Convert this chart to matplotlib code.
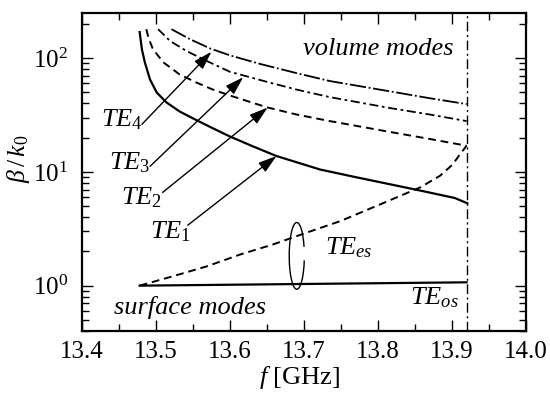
import matplotlib
matplotlib.use("Agg")
import matplotlib.pyplot as plt
from matplotlib.patches import Arc
from matplotlib.ticker import MultipleLocator, LogLocator, NullFormatter

plt.rcParams['font.family'] = 'Liberation Serif'
plt.rcParams['mathtext.fontset'] = 'custom'
plt.rcParams['mathtext.rm'] = 'Liberation Serif'
plt.rcParams['mathtext.it'] = 'Liberation Serif:italic'

# volume modes
f_te1 = [13.478, 13.481, 13.485, 13.492, 13.501, 13.514, 13.532, 13.555, 13.577, 13.60, 13.63, 13.663, 13.722, 13.77, 13.816, 13.86, 13.904, 13.921]
b_te1 = [170, 120, 92, 65, 50, 41, 34, 28.5, 24.2, 20.5, 16.9, 13.8, 10.5, 9.0, 7.8, 6.8, 5.9, 5.3]

f_te2 = [13.487, 13.490, 13.496, 13.510, 13.532, 13.555, 13.577, 13.60, 13.65, 13.69, 13.735, 13.816, 13.87, 13.92]
b_te2 = [180, 150, 120, 92, 72, 61, 53, 47, 37, 32, 28, 22.5, 19.5, 17]

f_te3 = [13.503, 13.519, 13.541, 13.568, 13.60, 13.65, 13.69, 13.735, 13.816, 13.87, 13.92]
b_te3 = [180, 142, 116, 95, 76, 62, 53, 45.5, 36.5, 32, 28]

f_te4 = [13.521, 13.546, 13.573, 13.60, 13.641, 13.69, 13.735, 13.825, 13.87, 13.92]
b_te4 = [180, 147, 122, 106, 89, 74, 63, 50, 44.5, 39.5]

# surface modes
f_es = [13.478, 13.523, 13.569, 13.614, 13.658, 13.704, 13.749, 13.803, 13.857, 13.884, 13.901, 13.911, 13.92]
b_es = [1.0, 1.21, 1.48, 1.88, 2.3, 2.93, 3.69, 5.18, 7.3, 9.25, 11.6, 14.3, 17]

f_os = [13.478, 13.92]
b_os = [1.0, 1.07]

f_cut = 13.92

fig = plt.figure(figsize=(5.5, 3.93), dpi=100)
ax = fig.add_axes([0.149, 0.158, 0.807, 0.809])

ax.plot(f_te1, b_te1, color='k', lw=1.6)
ax.plot(f_te2, b_te2, color='k', lw=1.4, linestyle=(0, (4, 2.5)))
ax.plot(f_te3, b_te3, color='k', lw=1.3, linestyle=(0, (5, 2, 1.5, 2)))
ax.plot(f_te4, b_te4, color='k', lw=1.3, linestyle=(0, (9, 1.5, 1, 1.5)))
ax.plot(f_es, b_es, color='k', lw=1.4, linestyle=(0, (4, 2.5)))
ax.plot(f_os, b_os, color='k', lw=1.6)
ax.axvline(f_cut, color='k', lw=1, linestyle=(0, (7, 2.5, 1.5, 2.5)))

ax.set_yscale('log')
ax.set_xlim(13.4, 14.0)
ax.set_ylim(0.4, 250)

ax.xaxis.set_major_locator(MultipleLocator(0.1))
ax.xaxis.set_minor_locator(MultipleLocator(0.05))
ax.xaxis.set_major_formatter(plt.FuncFormatter(lambda v, p: f'{v:.1f}'))
ax.yaxis.set_major_locator(LogLocator(base=10, numticks=10))
ax.yaxis.set_minor_locator(LogLocator(base=10, subs=range(2, 10), numticks=10))
ax.yaxis.set_minor_formatter(NullFormatter())

ax.tick_params(which='both', direction='in', top=True, right=True, labelsize=18, width=1)
ax.tick_params(which='major', length=8, pad=7)
ax.tick_params(which='minor', length=5)
ax.tick_params(axis='y', which='major', pad=10)
for s in ax.spines.values():
    s.set_linewidth(1.6)

ax.set_xlabel(r'$f$ [GHz]', fontsize=19)
ax.xaxis.set_label_coords(0.49, -0.148)
ax.xaxis.label.set_va('center')
ax.set_ylabel(r'$\beta\,/\,k_\mathit{0}$', fontsize=18.5)
ax.yaxis.set_label_coords(-0.142, 0.54)
ax.yaxis.label.set_va('center')

fs = 19
ax.text(13.80, 120, 'volume modes', style='italic', fontsize=fs, ha='center', va='center')
ax.text(13.546, 0.64, 'surface modes', style='italic', fontsize=fs, ha='center', va='center')
ax.text(13.761, 2.16, r'$TE_{es}$', fontsize=fs, ha='center', va='center')
ax.text(13.877, 0.78, r'$TE_{os}$', fontsize=fs, ha='center', va='center')

labels = [r'$TE_\mathit{4}$', r'$TE_\mathit{3}$', r'$TE_\mathit{2}$', r'$TE_\mathit{1}$']
label_pos = [(13.454, 29), (13.464, 12.1), (13.481, 5.96), (13.520, 2.99)]
arrow_tail = [(13.481, 26.2), (13.492, 11.2), (13.509, 6.6), (13.543, 3.4)]
arrow_head = [(13.575, 114), (13.618, 68), (13.651, 36.8), (13.663, 13.8)]
for lab, pos, tail, head in zip(labels, label_pos, arrow_tail, arrow_head):
    ax.text(pos[0], pos[1], lab, fontsize=fs, ha='center', va='center')
    ax.annotate('', xy=head, xytext=tail,
                arrowprops=dict(arrowstyle='-|>,head_length=0.8,head_width=0.25',
                                mutation_scale=14, color='k', lw=1,
                                shrinkA=0, shrinkB=0))

# bracket round the two surface modes
ax.add_patch(Arc((0.484, 0.236), 0.034, 0.21, theta1=60, theta2=320,
                 transform=ax.transAxes, color='k', lw=1))

fig.savefig('out.png', dpi=100)
